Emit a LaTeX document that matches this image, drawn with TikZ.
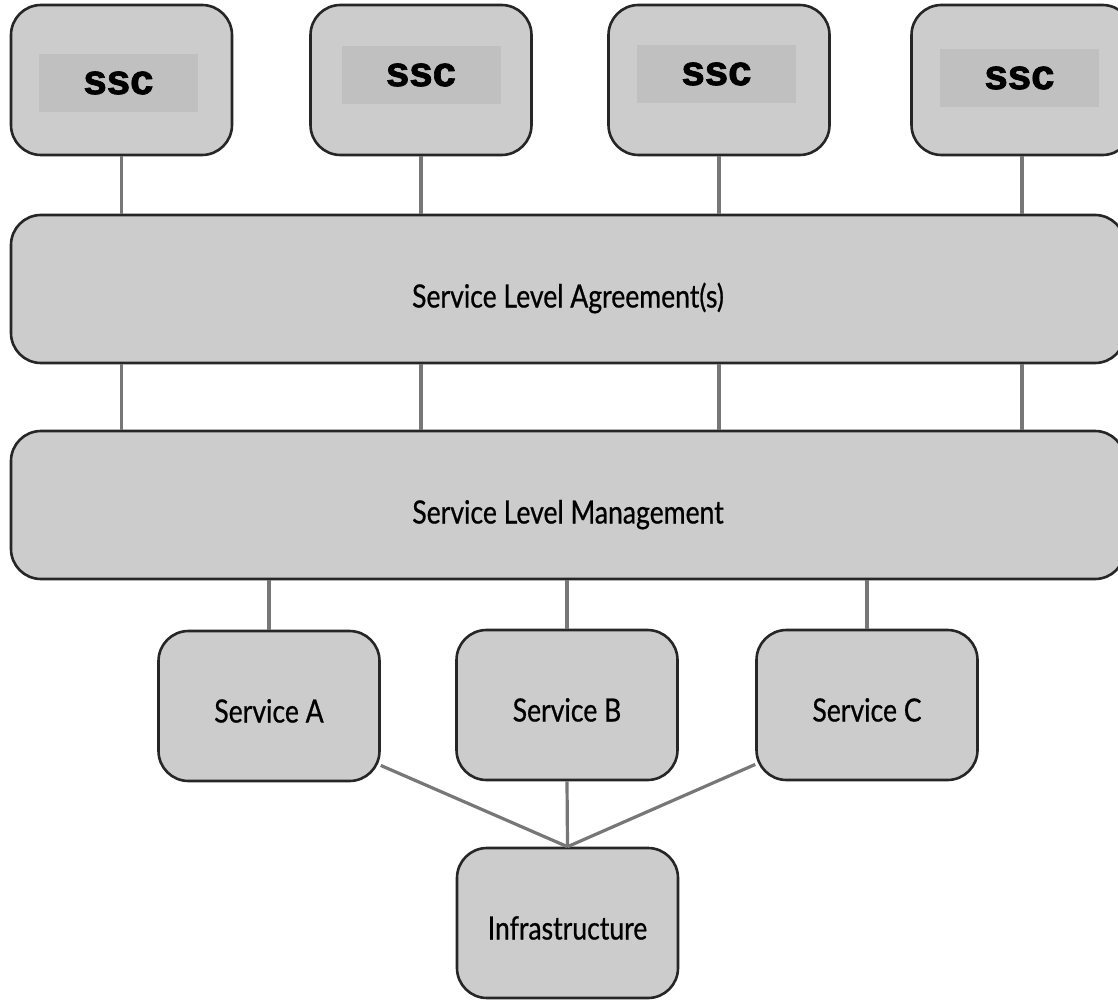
\documentclass[tikz,border=0pt]{standalone}
\usepackage{fontspec}
\newfontfamily\lblfont[FakeStretch=0.83,FakeBold=0.7]{Lato}
\newfontfamily\sscfont[BoldFeatures={FakeBold=1.6}]{Liberation Sans}
\usetikzlibrary{calc}
\definecolor{boxfill}{HTML}{CCCCCC}
\definecolor{innerfill}{HTML}{C0C0C0}
\definecolor{linkgray}{HTML}{777777}
\tikzset{
  rbox/.style={draw=black!85, line width=2.6pt, fill=boxfill, rounded corners=30pt,
    minimum width=221pt, minimum height=150pt, inner sep=0pt,
    text height=33pt, text depth=0pt,
    font=\lblfont\fontsize{32}{36}\selectfont},
  wide/.style={rbox, minimum width=1114pt, minimum height=148pt, text height=37pt},
  inner/.style={fill=innerfill, minimum width=159pt, minimum height=58pt, inner sep=0pt,
    font=\sscfont\bfseries\fontsize{42}{46}\selectfont},
  link/.style={draw=linkgray, line width=3.2pt}
}
\begin{document}
\begin{tikzpicture}[x=1pt,y=-1pt]
\useasboundingbox (0,0) rectangle (1118,1000);
% SSC boxes
\node[rbox] (s1) at (121.5,80) {};
\node[rbox] (s2) at (421,80) {};
\node[rbox] (s3) at (719,80) {};
\node[rbox] (s4) at (1022,80) {};
\node[inner] (i1) at (118.5,83) {ssc};
\node[inner] (i2) at (421,75) {ssc};
\node[inner] (i3) at (716.5,74) {ssc};
\node[inner] (i4) at (1019.5,78) {ssc};
% bars
\node[wide] (sla) at (568,289) {Service Level Agreement(s)};
\node[wide] (slm) at (568,505) {Service Level Management};
% services
\node[rbox] (sa) at (269,706) {Service A};
\node[rbox] (sb) at (567,705) {Service B};
\node[rbox] (sc) at (867,705) {Service C};
\node[rbox] (inf) at (567.5,923) {Infrastructure};
% connectors
\foreach \n in {s1,s2,s3,s4}{
  \draw[link] (\n.south) -- (\n.south |- sla.north);
  \draw[link] (\n.south |- sla.south) -- (\n.south |- slm.north);
}
\foreach \n in {sa,sb,sc}{
  \draw[link] (\n.north |- slm.south) -- (\n.north);
}
\draw[link] (sa.-28) -- (inf.north);
\draw[link] (sb.south) -- (inf.north);
\draw[link] (sc.-152) -- (inf.north);
\end{tikzpicture}
\end{document}
